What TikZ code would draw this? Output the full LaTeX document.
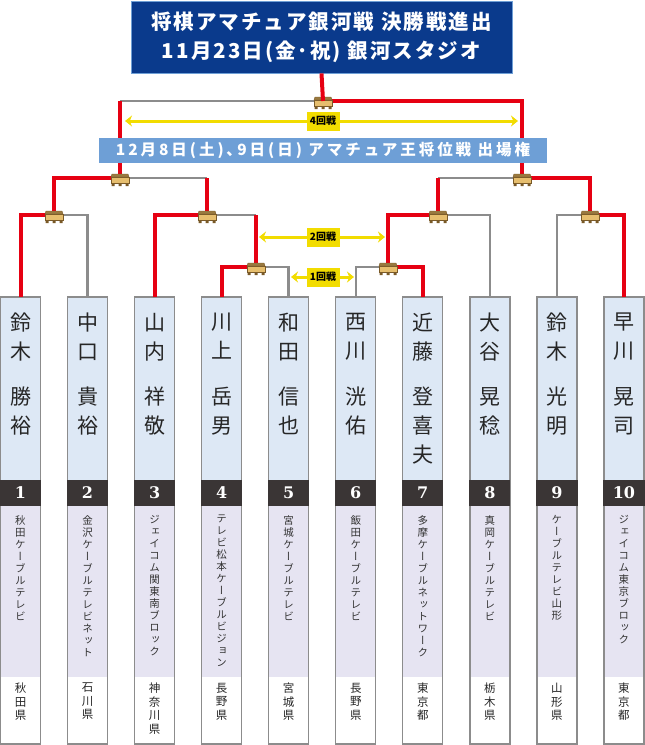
\documentclass[tikz,border=0pt]{standalone}
\usepackage{fontspec}
\usetikzlibrary{arrows.meta}

\newfontfamily\jpfont{Noto Sans CJK JP}
\newfontfamily\jpvfont{Noto Sans CJK JP}[RawFeature=+vert]
\newfontfamily\titlefont{Noto Sans CJK JP}[LetterSpace=10]
\newfontfamily\bannerfont{Noto Sans CJK JP}[LetterSpace=19]
\newfontfamily\numfont{DejaVu Serif}

\definecolor{winred}{HTML}{E60012}
\definecolor{losegray}{HTML}{8C8C8C}
\definecolor{titleblue}{HTML}{0A3A8C}
\definecolor{bannerblue}{HTML}{6E9FD6}
\definecolor{namebg}{HTML}{DDE8F5}
\definecolor{bandblack}{HTML}{3A3535}
\definecolor{cobg}{HTML}{E6E4F2}
\definecolor{roundyellow}{HTML}{F2DC00}
\definecolor{boardtop}{HTML}{9A7A40}
\definecolor{boardside}{HTML}{E6BE6E}
\definecolor{boardedge}{HTML}{7A5A28}

\tikzset{
  win/.style={draw=winred, line width=4pt},
  lose/.style={draw=losegray, line width=2.5pt},
  roundarrow/.style={draw=roundyellow, line width=3pt,
    {Stealth[length=7pt,width=11pt]}-{Stealth[length=7pt,width=11pt]}},
  roundlabel/.style={fill=roundyellow, text=black, inner sep=0pt,
    minimum width=33pt, minimum height=19pt,
    font=\jpfont\bfseries\fontsize{10}{10}\selectfont},
  namestyle/.style={anchor=north, align=center, inner sep=0pt,
    text=black!85, font=\jpfont\fontsize{21}{29}\selectfont},
  costyle/.style={anchor=north, align=center, inner sep=0pt,
    text=black!80, font=\jpvfont\fontsize{10.5}{12}\selectfont},
  prefstyle/.style={anchor=north, align=center, inner sep=0pt,
    text=black!85, font=\jpfont\fontsize{11.5}{13.5}\selectfont},
  numstyle/.style={text=white, inner sep=0pt,
    font=\numfont\bfseries\fontsize{16}{16}\selectfont},
  board/.pic={
    \fill[boardside, draw=boardedge, line width=0.4pt] (-9,-1) rectangle (9,5);
    \fill[boardtop, draw=boardedge, line width=0.4pt] (-8,-4) -- (8,-4) -- (9,-1) -- (-9,-1) -- cycle;
    \fill[boardedge] (-8.5,5) rectangle (-5.5,8) (-1.5,5) rectangle (1.5,8) (5.5,5) rectangle (8.5,8);
  }
}

\begin{document}
\begin{tikzpicture}[x=1pt, y=-1pt]
  \useasboundingbox (0,0) rectangle (645,745);

  % Player boxes
  \foreach \i/\sur/\giv/\co/\pref in {
    1/{鈴\\木}/{勝\\裕}/{秋\\田\\ケ\\ー\\ブ\\ル\\テ\\レ\\ビ}/{秋\\田\\県},
    2/{中\\口}/{貴\\裕}/{金\\沢\\ケ\\ー\\ブ\\ル\\テ\\レ\\ビ\\ネ\\ッ\\ト}/{石\\川\\県},
    3/{山\\内}/{祥\\敬}/{ジ\\ェ\\イ\\コ\\ム\\関\\東\\南\\ブ\\ロ\\ッ\\ク}/{神\\奈\\川\\県},
    4/{川\\上}/{岳\\男}/{テ\\レ\\ビ\\松\\本\\ケ\\ー\\ブ\\ル\\ビ\\ジ\\ョ\\ン}/{長\\野\\県},
    5/{和\\田}/{信\\也}/{宮\\城\\ケ\\ー\\ブ\\ル\\テ\\レ\\ビ}/{宮\\城\\県},
    6/{西\\川}/{洸\\佑}/{飯\\田\\ケ\\ー\\ブ\\ル\\テ\\レ\\ビ}/{長\\野\\県},
    7/{近\\藤}/{登\\喜\\夫}/{多\\摩\\ケ\\ー\\ブ\\ル\\ネ\\ッ\\ト\\ワ\\ー\\ク}/{東\\京\\都},
    8/{大\\谷}/{晃\\稔}/{真\\岡\\ケ\\ー\\ブ\\ル\\テ\\レ\\ビ}/{栃\\木\\県},
    9/{鈴\\木}/{光\\明}/{ケ\\ー\\ブ\\ル\\テ\\レ\\ビ\\山\\形}/{山\\形\\県},
    10/{早\\川}/{晃\\司}/{ジ\\ェ\\イ\\コ\\ム\\東\\京\\ブ\\ロ\\ッ\\ク}/{東\\京\\都}}{
    \pgfmathsetmacro\px{20.5+67.05*(\i-1)}
    \coordinate (p\i) at (\px,297);
    \fill[namebg] (\px-20,297) rectangle (\px+20,480);
    \fill[cobg] (\px-20,506) rectangle (\px+20,677);
    \fill[white] (\px-20,677) rectangle (\px+20,744);
    \draw[losegray, line width=1.3pt] (\px-20,297) rectangle (\px+20,744);
    \fill[bandblack] (\px-20.6,480) rectangle (\px+20.6,506);
    \node[namestyle] (sur\i) at (\px,313) {\sur};
    \node[namestyle] (giv\i) at (\px,387) {\giv};
    \node[numstyle] (num\i) at (\px,493) {\i};
    \node[costyle] (co\i) at (\px,515) {\co};
    \node[prefstyle] (pref\i) at (\px,683) {\pref};
  }

  % Match points
  \coordinate (fin) at (323,101);
  \coordinate (sfL) at (120,178);
  \coordinate (sfR) at (522,178);
  \coordinate (qa) at (54,215);
  \coordinate (qb) at (207,215);
  \coordinate (qc) at (438,215);
  \coordinate (qd) at (590,215);
  \coordinate (ra) at (256,267);
  \coordinate (rb) at (388,267);

  % Losing lines
  \draw[lose] (p2) |- (qa);
  \draw[lose] (p5) |- (ra);
  \draw[lose] (p6) |- (rb);
  \draw[lose] (p8) |- (qc);
  \draw[lose] (p9) |- (qd);
  \draw[lose] (ra |- qb) -- (qb);
  \draw[lose] (qb |- sfL) -- (sfL);
  \draw[lose] (qc |- sfR) -- (sfR);
  \draw[lose] (sfL |- fin) -- (fin);

  % Winning lines
  \draw[win] (p1) |- (qa);
  \draw[win] (p3) |- (qb);
  \draw[win] (p4) |- (ra);
  \draw[win] (p7) |- (rb);
  \draw[win] (p10) |- (qd);
  \draw[win] (ra) -- (ra |- qb);
  \draw[win] (rb) |- (qc);
  \draw[win] (qa) |- (sfL);
  \draw[win] (qb) -- (qb |- sfL);
  \draw[win] (qc) -- (qc |- sfR);
  \draw[win] (qd) |- (sfR);
  \draw[win] (sfL) -- (sfL |- fin);
  \draw[win] (sfR) |- (fin);

  % Boards on the match points
  \foreach \m in {fin,sfL,sfR,qa,qb,qc,qd,ra,rb}
    \pic at (\m) {board};

  % Title and banner
  \node[fill=titleblue, draw=bannerblue, line width=0.8pt, minimum width=381pt,
    minimum height=72pt, inner sep=0pt, align=center, text=white,
    font=\titlefont\bfseries\fontsize{20.5}{29}\selectfont] (title) at (321.5,37)
    {将棋アマチュア銀河戦 決勝戦進出\\11月23日(金･祝) 銀河スタジオ};
  \draw[win] (fin) -- (title.south);
  \node[fill=bannerblue, minimum width=448pt, minimum height=25pt, inner sep=0pt,
    text=white, font=\bannerfont\bfseries\fontsize{15.5}{15.5}\selectfont] (banner) at (323,150.5)
    {12月8日(土)､9日(日) アマチュア王将位戦 出場権};

  % Round arrows
  \coordinate (r4l) at (125,121);
  \coordinate (r4r) at (518,121);
  \coordinate (r2l) at (259,237);
  \coordinate (r2r) at (385,237);
  \coordinate (r1l) at (291,277);
  \coordinate (r1r) at (354,277);
  \draw[roundarrow] (r4l) -- (r4r);
  \draw[roundarrow] (r2l) -- (r2r);
  \draw[roundarrow] (r1l) -- (r1r);
  \node[roundlabel] (r4) at (323,121) {4回戦};
  \node[roundlabel] (r2) at (323,237) {2回戦};
  \node[roundlabel] (r1) at (323,277) {1回戦};
\end{tikzpicture}
\end{document}
